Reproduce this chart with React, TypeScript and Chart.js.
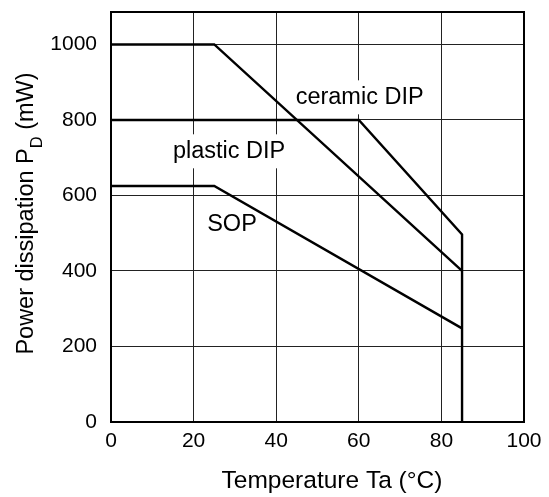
import React, { useEffect, useRef } from "react";
import { Chart, registerables } from "chart.js";

Chart.register(...registerables);

// ---- data ----
const xTickValues = [0, 20, 40, 60, 80, 100];
const yTickValues = [0, 200, 400, 600, 800, 1000];
const xMin = 0;
const xMax = 100;
const yMin = 0;
const yMax = 1086;

const ceramicX = [0, 25, 85];
const ceramicY = [1000, 1000, 400];
const plasticX = [0, 60, 85, 85];
const plasticY = [800, 800, 497, 0];
const sopX = [0, 25, 85];
const sopY = [625, 625, 248];

const labelTexts = ["ceramic DIP", "plastic DIP", "SOP"];
const labelX = [60.2, 28.6, 29.3];
const labelY = [860, 717, 524];

const xTitle = "Temperature Ta (°C)";
const yTitleMain = "Power dissipation P";
const yTitleSub = "D";
const yTitleEnd = " (mW)";

const FONT = "'Liberation Sans', Arial, Helvetica, sans-serif";

const toPoints = (xs: number[], ys: number[]) => xs.map((x, i) => ({ x, y: ys[i] }));

const decorPlugin = {
  id: "decor",
  beforeDatasetsDraw(chart: any) {
    const ctx = chart.ctx as CanvasRenderingContext2D;
    const xs = chart.scales.x;
    const ys = chart.scales.y;
    ctx.save();
    ctx.font = `23.5px ${FONT}`;
    ctx.textAlign = "center";
    ctx.textBaseline = "middle";
    labelTexts.forEach((t, i) => {
      const px = xs.getPixelForValue(labelX[i]);
      const py = ys.getPixelForValue(labelY[i]);
      const w = ctx.measureText(t).width;
      ctx.fillStyle = "#ffffff";
      ctx.fillRect(px - w / 2 - 5, py - 17, w + 10, 34);
      ctx.fillStyle = "#000000";
      ctx.fillText(t, px, py);
    });
    ctx.restore();
  },
  afterDraw(chart: any) {
    const ctx = chart.ctx as CanvasRenderingContext2D;
    const a = chart.chartArea;
    ctx.save();
    ctx.strokeStyle = "#000";
    ctx.lineWidth = 2;
    ctx.strokeRect(a.left, a.top, a.right - a.left, a.bottom - a.top);

    // x title
    ctx.fillStyle = "#000";
    ctx.font = `24.5px ${FONT}`;
    ctx.textAlign = "center";
    ctx.textBaseline = "alphabetic";
    ctx.fillText(xTitle, 332, 488);

    // y title with subscript
    const mainFont = `23.5px ${FONT}`;
    const subFont = `16.5px ${FONT}`;
    ctx.font = mainFont;
    const w1 = ctx.measureText(yTitleMain).width;
    const w3 = ctx.measureText(yTitleEnd).width;
    ctx.font = subFont;
    const w2 = ctx.measureText(yTitleSub).width;
    const total = w1 + w2 + w3;
    ctx.translate(33, 213.5);
    ctx.rotate(-Math.PI / 2);
    ctx.textAlign = "left";
    let cx = -total / 2;
    ctx.font = mainFont;
    ctx.fillText(yTitleMain, cx, 0);
    cx += w1;
    ctx.font = subFont;
    ctx.fillText(yTitleSub, cx, 9);
    cx += w2;
    ctx.font = mainFont;
    ctx.fillText(yTitleEnd, cx, 0);
    ctx.restore();
  },
};

export default function App() {
  const ref = useRef<HTMLCanvasElement | null>(null);
  useEffect(() => {
    if (!ref.current) return;
    const lineStyle = {
      borderColor: "#000",
      borderWidth: 2.4,
      pointRadius: 0,
      pointHoverRadius: 0,
      tension: 0,
      fill: false,
    };
    const chart = new Chart(ref.current, {
      type: "line",
      data: {
        datasets: [
          { label: "ceramic DIP", data: toPoints(ceramicX, ceramicY), ...lineStyle },
          { label: "plastic DIP", data: toPoints(plasticX, plasticY), ...lineStyle },
          { label: "SOP", data: toPoints(sopX, sopY), ...lineStyle },
        ],
      },
      options: {
        animation: false,
        responsive: false,
        devicePixelRatio: 1,
        layout: { padding: { top: 12, right: 25, left: 0, bottom: 0 } },
        plugins: { legend: { display: false }, tooltip: { enabled: false }, title: { display: false } },
        events: [],
        scales: {
          x: {
            type: "linear",
            min: xMin,
            max: xMax,
            afterBuildTicks: (s: any) => {
              s.ticks = xTickValues.map((v) => ({ value: v }));
            },
            afterFit: (s: any) => {
              s.height = 75;
              s.paddingLeft = 0;
              s.paddingRight = 0;
            },
            ticks: {
              color: "#000",
              font: { family: FONT, size: 21 },
              padding: 7,
              maxRotation: 0,
              autoSkip: false,
              callback: (v: any) => String(v),
            },
            grid: { color: "#222", lineWidth: 1, drawTicks: false },
            border: { display: false },
            title: { display: false },
          },
          y: {
            type: "linear",
            min: yMin,
            max: yMax,
            afterBuildTicks: (s: any) => {
              s.ticks = yTickValues.map((v) => ({ value: v }));
            },
            afterFit: (s: any) => {
              s.width = 111;
              s.paddingTop = 0;
              s.paddingBottom = 0;
            },
            ticks: {
              color: "#000",
              font: { family: FONT, size: 21 },
              padding: 14,
              autoSkip: false,
              callback: (v: any) => String(v),
            },
            grid: { color: "#222", lineWidth: 1, drawTicks: false },
            border: { display: false },
            title: { display: false },
          },
        },
      },
      plugins: [decorPlugin],
    } as any);
    return () => chart.destroy();
  }, []);
  return (
    <div style={{ position: "absolute", left: 0, top: 0, width: 549, height: 497, background: "#fff" }}>
      <canvas ref={ref} width={549} height={497} style={{ display: "block", width: 549, height: 497 }} />
    </div>
  );
}
